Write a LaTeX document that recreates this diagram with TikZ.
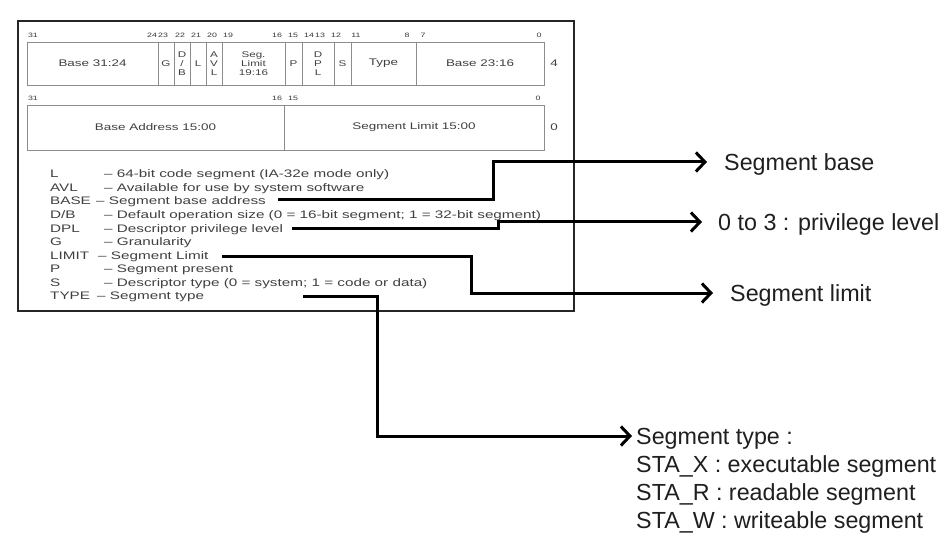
\documentclass[tikz,border=0pt]{standalone}
\usepackage{fontspec}
\setmainfont{Liberation Sans}
\newfontfamily\figfont[FakeStretch=1.4]{Liberation Sans}
\usetikzlibrary{arrows.meta}
\begin{document}
\begin{tikzpicture}[x=1pt,y=-1pt,
  frame/.style={draw=black!85, line width=1.4pt},
  cell/.style={draw=black!45, line width=0.8pt},
  bitnum/.style={font=\figfont\fontsize{6.3}{7}\selectfont, text=black!78, inner sep=0},
  field/.style={font=\figfont\fontsize{9.6}{10}\selectfont, text=black!75, inner sep=0, align=center},
  stack/.style={font=\figfont\fontsize{8.3}{9.3}\selectfont, text=black!75, inner sep=0, align=center},
  leg/.style={font=\figfont\fontsize{10.9}{13}\selectfont, text=black!75, inner sep=0, anchor=west, text height=7.8pt, text depth=0pt},
  rtext/.style={font=\fontsize{23.3}{28}\selectfont, text=black!88, inner sep=0, anchor=west, text height=16.7pt, text depth=0pt},
  conn/.style={line width=3pt, -{Straight Barb[length=9pt,width=19pt]}}
]
\useasboundingbox (0,0) rectangle (944,553);
\fill[white] (0,0) rectangle (944,553);

% outer frame
\draw[frame] (18,21) rectangle (574,311);

% top row
\draw[cell] (27,42) rectangle (544,85);
\foreach \xx in {158,174,190,206,222,285,302,334,351,416}
  \draw[cell] (\xx,42) -- (\xx,85);
% second row
\draw[cell] (27,105) rectangle (544,150);
\draw[cell] (284,105) -- (284,150);

% bit numbers row 1
\node[bitnum] (b31) at (33,35) {31};
\node[bitnum] (b24) at (152,35) {24};
\node[bitnum] (b23) at (163,35) {23};
\node[bitnum] (b22) at (180,35) {22};
\node[bitnum] (b21) at (196,35) {21};
\node[bitnum] (b20) at (212,35) {20};
\node[bitnum] (b19) at (228,35) {19};
\node[bitnum] (b16) at (277,35) {16};
\node[bitnum] (b15) at (293,35) {15};
\node[bitnum] (b14) at (309,35) {14};
\node[bitnum] (b13) at (320,35) {13};
\node[bitnum] (b12) at (336,35) {12};
\node[bitnum] (b11) at (356,35) {11};
\node[bitnum] (b8) at (407,35) {8};
\node[bitnum] (b7) at (423,35) {7};
\node[bitnum] (b0) at (539,35) {0};
% bit numbers row 2
\node[bitnum] (c31) at (33,98) {31};
\node[bitnum] (c16) at (277,98) {16};
\node[bitnum] (c15) at (293,98) {15};
\node[bitnum] (c0) at (538,98) {0};

% fields row 1
\node[field] (fBaseHi) at (92.5,63.5) {Base 31:24};
\node[stack] (fG) at (166,63.5) {G};
\node[stack] (fDB) at (182,63.5) {D\\/\\B};
\node[stack] (fL) at (198,63.5) {L};
\node[stack] (fAVL) at (214,63.5) {A\\V\\L};
\node[stack] (fSeg) at (253.5,63.5) {Seg.\\Limit\\19:16};
\node[stack] (fP) at (293.5,63.5) {P};
\node[stack] (fDPL) at (318,63.5) {D\\P\\L};
\node[stack] (fS) at (342.5,63.5) {S};
\node[field] (fType) at (383.5,63.5) {Type};
\node[field] (fBaseMid) at (480,63.5) {Base 23:16};
\node[field] (r4) at (554,63.5) {4};
% fields row 2
\node[field] (fBaseLo) at (155.5,127.5) {Base Address 15:00};
\node[field] (fLimLo) at (414,127.5) {Segment Limit 15:00};
\node[field] (r0) at (554,127.5) {0};

% legend
\node[leg] (kL) at (50,174) {L};
\node[leg] (dL) at (104,174) {– 64-bit code segment (IA-32e mode only)};
\node[leg] (kAVL) at (50,187.6) {AVL};
\node[leg] (dAVL) at (104,187.6) {– Available for use by system software};
\node[leg] (kBASE) at (50,201.1) {BASE};
\node[leg] (dBASE) at (96,201.1) {– Segment base address};
\node[leg] (kDB) at (50,214.7) {D/B};
\node[leg] (dDB) at (104,214.7) {– Default operation size (0 = 16-bit segment; 1 = 32-bit segment)};
\node[leg] (kDPL) at (50,228.2) {DPL};
\node[leg] (dDPL) at (104,228.2) {– Descriptor privilege level};
\node[leg] (kG) at (50,241.8) {G};
\node[leg] (dG) at (104,241.8) {– Granularity};
\node[leg] (kLIM) at (50,255.3) {LIMIT};
\node[leg] (dLIM) at (98,255.3) {– Segment Limit};
\node[leg] (kP) at (50,268.9) {P};
\node[leg] (dP) at (104,268.9) {– Segment present};
\node[leg] (kS) at (50,282.4) {S};
\node[leg] (dS) at (104,282.4) {– Descriptor type (0 = system; 1 = code or data)};
\node[leg] (kTYPE) at (50,296) {TYPE};
\node[leg] (dTYPE) at (97,296) {– Segment type};

% right texts
\node[rtext] (rBase) at (724,162) {Segment base};
\node[rtext] (rDpl) at (718,222) {0 to 3 : privilege level};
\node[rtext] (rLim) at (730,293) {Segment limit};
\node[rtext] (rType1) at (636,436) {Segment type :};
\node[rtext] (rType2) at (636,464) {STA\_X : executable segment};
\node[rtext] (rType3) at (636,492) {STA\_R : readable segment};
\node[rtext] (rType4) at (636,520) {STA\_W : writeable segment};

% connectors
\coordinate (sBase) at (278,200);
\coordinate (jBase) at (493,180);
\coordinate (sDpl) at (292,229);
\coordinate (jDpl) at (498,225);
\coordinate (sLim) at (222,256);
\coordinate (jLim) at (471,275);
\coordinate (sType) at (303,296);
\coordinate (jType) at (377,360);
\draw[conn, shorten >=17pt] (sBase) -| (jBase) |- (rBase.west);
\draw[conn, shorten >=16pt] (sDpl) -| (jDpl) |- (rDpl.west);
\draw[conn, shorten >=17pt] (sLim) -| (jLim) |- (rLim.west);
\draw[conn, shorten >=4pt] (sType) -| (jType) |- (rType1.west);
\end{tikzpicture}
\end{document}
